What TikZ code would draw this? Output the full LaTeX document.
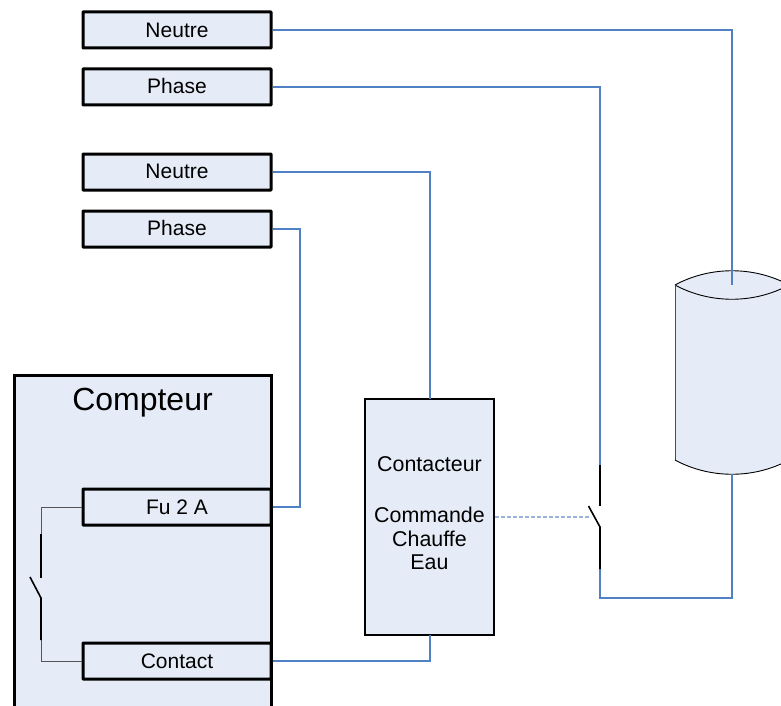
\documentclass[tikz,border=0pt]{standalone}
\usepackage{fontspec}
\setmainfont{Liberation Sans}
\definecolor{boxfill}{HTML}{E6ECF7}
\definecolor{wire}{HTML}{4F81C4}
\definecolor{dashwire}{HTML}{9AB3DC}
\definecolor{thinwire}{HTML}{555555}
\newcommand{\uplabel}[2]{\raisebox{#1pt}{#2}}
\tikzset{
  smallbox/.style={draw=black,line width=3pt,fill=boxfill,rounded corners=0.5pt,minimum width=188pt,minimum height=36pt,inner sep=0pt,font=\fontsize{21pt}{24pt}\selectfont,text=black},
  bigbox/.style={draw=black,line width=2pt,fill=boxfill,inner sep=0pt},
  wireline/.style={draw=wire,line width=1.7pt},
  ctrl/.style={draw=dashwire,line width=1.1pt,dash pattern=on 3.5pt off 2.5pt},
  thinline/.style={draw=thinwire,line width=1pt},
  contact/.style={draw=black,line width=1.6pt},
  caption/.style={inner sep=0pt,align=center,text=black}
}
\begin{document}
\begin{tikzpicture}[x=1pt,y=-1pt]
\useasboundingbox (0,0) rectangle (781,706);
\clip (0,0) rectangle (781,706);

% Compteur body
\path[bigbox,line width=3pt] (14,730) -- (14,375) -- (271,375) -- (271,730);
\coordinate (cptcap) at (142.5,402.5);
\node[caption,font=\fontsize{32pt}{36pt}\selectfont] (cpt) at (cptcap) {Compteur};

% Terminal boxes
\node[smallbox] (n1) at (177,30) {Neutre};
\node[smallbox] (p1) at (177,87) {\uplabel{2}{Phase}};
\node[smallbox] (n2) at (177,172) {\uplabel{1}{Neutre}};
\node[smallbox] (p2) at (177,229) {\uplabel{2}{Phase}};
\node[smallbox] (fu) at (177,507) {Fu 2 A};
\node[smallbox] (ct) at (177,661) {Contact};

% Contacteur
\node[bigbox,minimum width=129pt,minimum height=236pt] (cc) at (429.5,517) {};
\coordinate (cctop) at (430,399);
\coordinate (ccbot) at (430,635);
\node[caption,font=\fontsize{21.4pt}{23.5pt}\selectfont] (cctxt) at (429.5,513.5) {Contacteur\\[27.5pt]Commande\\Chauffe\\Eau};

% Cylinder
\coordinate (cyltl) at (675,285);
\coordinate (cyltr) at (789,285);
\coordinate (cylbl) at (675,460);
\coordinate (cylbr) at (789,460);
\coordinate (cyltop) at (732,285);
\coordinate (cylbot) at (732,474);
\path[fill=boxfill] (cyltl) .. controls (710,266) and (754,266) .. (cyltr) -- (cylbr) .. controls (754,479) and (710,479) .. (cylbl) -- cycle;
\draw[black,line width=0.9pt] (cyltl) .. controls (710,266) and (754,266) .. (cyltr);
\draw[black,line width=0.9pt] (cyltl) .. controls (710,304) and (754,304) .. (cyltr);
\draw[black!70,line width=0.9pt] (cyltl) -- (cylbl);
\draw[black!70,line width=0.9pt] (cyltr) -- (cylbr);
\draw[black,line width=0.9pt] (cylbl) .. controls (710,479) and (754,479) .. (cylbr);

% Switch points
\coordinate (swAt) at (600,465);
\coordinate (swAh) at (600,506);
\coordinate (swAb) at (600,527);
\coordinate (swAl) at (588.5,506);
\coordinate (swAe) at (600,569);
\coordinate (swBt) at (41,534);
\coordinate (swBh) at (41,578);
\coordinate (swBb) at (41,598);
\coordinate (swBl) at (30,577);
\coordinate (swBe) at (41,640);

% Wires
\draw[wireline] (n1.east) -- (n1.east -| cyltop) -- (cyltop);
\draw[wireline] (p1.east) -- (p1.east -| swAt) -- (swAt);
\draw[wireline] (n2.east) -- (n2.east -| cctop) -- (cctop);
\draw[wireline] (p2.east) -- ++(27.5,0) |- (fu.east);
\draw[wireline] (ct.east) -- (ct.east -| ccbot) -- (ccbot);
\draw[wireline] (swAe) -- (600,598) -- (732,598) -- (cylbot);
\draw[ctrl] (cc.east) -- (591,517);

% Switches
\draw[contact] (swAt) -- (swAh);
\draw[contact] (swAl) -- (swAb) -- (swAe);
\draw[thinline] (fu.west) -- (fu.west -| swBt) -- (swBt);
\draw[thinline] (ct.west) -- (ct.west -| swBe) -- (swBe);
\draw[contact] (swBt) -- (swBh);
\draw[contact] (swBl) -- (swBb) -- (swBe);
\end{tikzpicture}
\end{document}
